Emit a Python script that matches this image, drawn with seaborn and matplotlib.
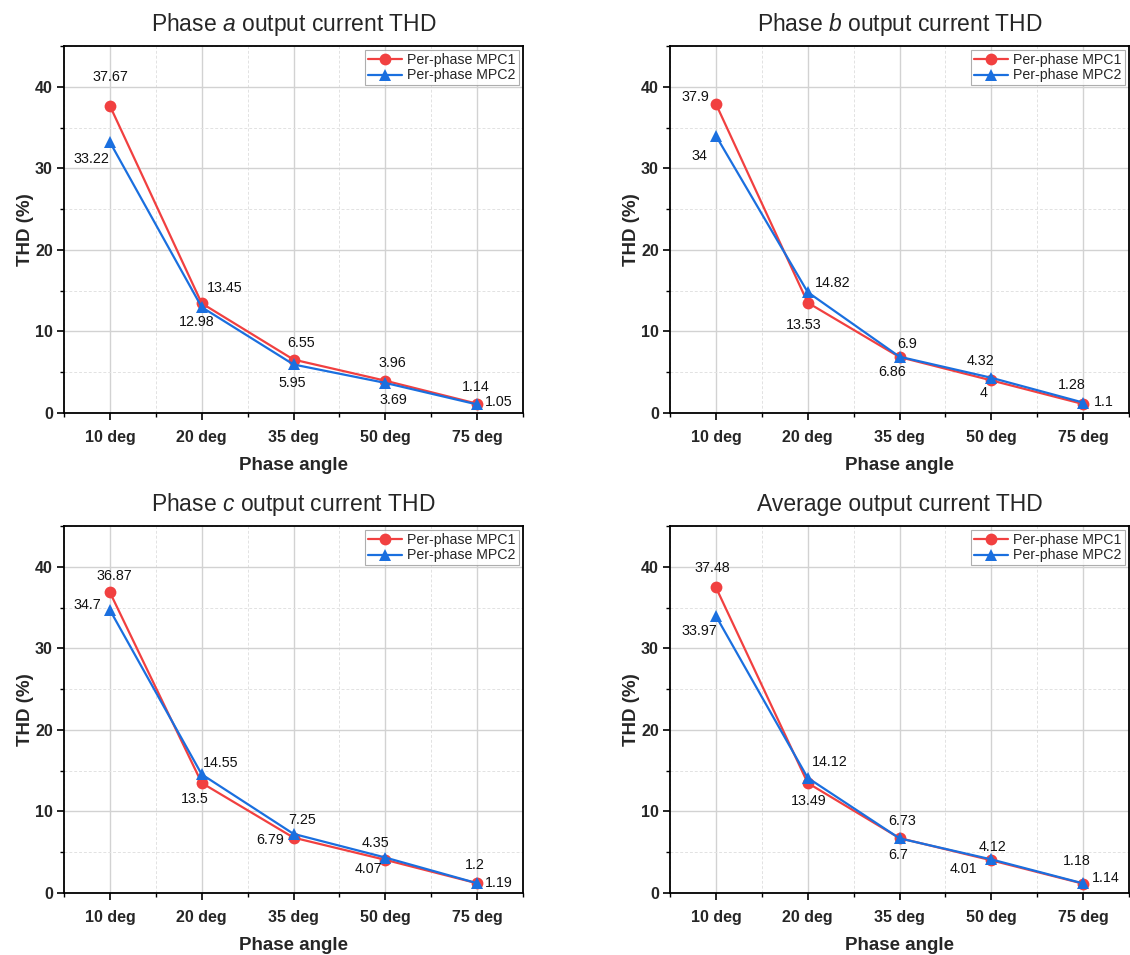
import numpy as np
import pandas as pd
import matplotlib
matplotlib.use("Agg")
import matplotlib.pyplot as plt
from matplotlib.ticker import FixedLocator
import seaborn as sns

# ---------------- data ----------------
angles = ["10 deg", "20 deg", "35 deg", "50 deg", "75 deg"]
series_names = ["Per-phase MPC1", "Per-phase MPC2"]

phase_a_mpc1 = [37.67, 13.45, 6.55, 3.96, 1.14]
phase_a_mpc2 = [33.22, 12.98, 5.95, 3.69, 1.05]
phase_b_mpc1 = [37.9, 13.53, 6.86, 4, 1.1]
phase_b_mpc2 = [34, 14.82, 6.9, 4.32, 1.28]
phase_c_mpc1 = [36.87, 13.5, 6.79, 4.07, 1.19]
phase_c_mpc2 = [34.7, 14.55, 7.25, 4.35, 1.2]
avg_mpc1 = [37.48, 13.49, 6.73, 4.01, 1.14]
avg_mpc2 = [33.97, 14.12, 6.7, 4.12, 1.18]

titles = ["Phase $\\mathit{a}$ output current THD",
          "Phase $\\mathit{b}$ output current THD",
          "Phase $\\mathit{c}$ output current THD",
          "Average output current THD"]
panels = [(phase_a_mpc1, phase_a_mpc2), (phase_b_mpc1, phase_b_mpc2),
          (phase_c_mpc1, phase_c_mpc2), (avg_mpc1, avg_mpc2)]

# label offsets in pixels (dx, dy up) for MPC1 and MPC2 per panel (layout only)
offsets = [
    ([(1, 29), (23, 15), (8, 17), (7, 18), (-1, 17)],
     [(-18, -17), (-5, -15), (-1, -19), (8, -17), (22, 2)]),
    ([(-21, 7), (-4, -22), (-7, -15), (-8, -13), (21, 2)],
     [(-16, -20), (25, 9), (8, 13), (-11, 17), (-11, 18)]),
    ([(4, 16), (-7, -16), (-23, -2), (-17, -9), (22, 0)],
     [(-23, 5), (19, 11), (9, 14), (-10, 15), (-2, 18)]),
    ([(-4, 19), (1, -18), (3, 17), (-28, -9), (23, 6)],
     [(-17, -15), (22, 16), (-1, -17), (1, 12), (-6, 22)]),
]

# ---------------- style ----------------
sns.set_theme(style="ticks")
plt.rcParams["font.family"] = ["Liberation Sans", "DejaVu Sans"]
plt.rcParams["mathtext.fontset"] = "custom"
plt.rcParams["mathtext.rm"] = "Liberation Sans"
plt.rcParams["mathtext.it"] = "Liberation Sans:italic"

red = "#F14040"
blue = "#1A6FDF"
palette = {series_names[0]: red, series_names[1]: blue}

fig = plt.figure(figsize=(11.3, 9.55), dpi=100)
W, H = 1130, 955
boxes = [(64, 46, 523, 413), (670, 46, 1129, 413),
         (64, 526, 523, 893), (670, 526, 1129, 893)]

for k, (box, title, (s1, s2), offs) in enumerate(zip(boxes, titles, panels, offsets)):
    x0, y0, x1, y1 = box
    ax = fig.add_axes([x0 / W, 1 - y1 / H, (x1 - x0) / W, (y1 - y0) / H])
    df = pd.DataFrame({
        "angle": angles * 2,
        "THD": list(s1) + list(s2),
        "series": [series_names[0]] * len(angles) + [series_names[1]] * len(angles),
    })
    sns.lineplot(data=df, x="angle", y="THD", hue="series", style="series",
                 palette=palette, markers={series_names[0]: "o", series_names[1]: "^"},
                 dashes=False, markersize=8.5, markeredgewidth=0, linewidth=1.6,
                 ax=ax, sort=False, zorder=3)
    ax.set_xlim(-0.5, len(angles) - 0.5)
    ax.set_ylim(0, 45)
    ax.set_xticks(range(len(angles)))
    ax.set_xticklabels(angles)
    ax.set_yticks([0, 10, 20, 30, 40])
    ax.xaxis.set_minor_locator(FixedLocator(np.arange(-0.5, len(angles), 1.0)))
    ax.yaxis.set_minor_locator(FixedLocator(np.arange(5, 46, 10)))
    ax.grid(which="major", color="#d2d2d2", linewidth=1.0, linestyle="-", zorder=0)
    ax.grid(which="minor", color="#e2e2e2", linewidth=0.7, linestyle=(0, (3, 2)), zorder=0)
    ax.set_axisbelow(True)
    for sp in ax.spines.values():
        sp.set_visible(True)
        sp.set_color("black")
        sp.set_linewidth(1.3)
    ax.tick_params(which="major", direction="out", length=5, width=1.2,
                   labelsize=11.5, color="black", pad=3)
    ax.tick_params(axis="x", which="major", pad=7)
    ax.tick_params(which="minor", direction="out", length=3, width=1.0, color="black")
    for lab in ax.get_xticklabels() + ax.get_yticklabels():
        lab.set_fontweight("bold")
    ax.set_xlabel("Phase angle", fontsize=13.5, fontweight="bold", labelpad=9)
    ax.set_ylabel("THD (%)", fontsize=13.5, fontweight="bold", labelpad=1)
    ax.set_title(title, fontsize=16.5, pad=11)

    for series, offl in zip((s1, s2), offs):
        for i, (v, (dx, dy)) in enumerate(zip(series, offl)):
            ax.annotate(f"{v:g}", (i, v), xytext=(dx, dy), textcoords="offset pixels",
                        ha="center", va="center", fontsize=10.3, color="#111111", zorder=4)

    leg = ax.legend(loc="upper right", fontsize=10.2, frameon=True, fancybox=False,
                    borderaxespad=0.3, handlelength=2.4, handletextpad=0.4,
                    borderpad=0.2, labelspacing=0.1)
    leg.get_frame().set_edgecolor("#9a9a9a")
    leg.get_frame().set_linewidth(0.8)
    leg.set_title(None)

fig.savefig("out.png", dpi=100)
